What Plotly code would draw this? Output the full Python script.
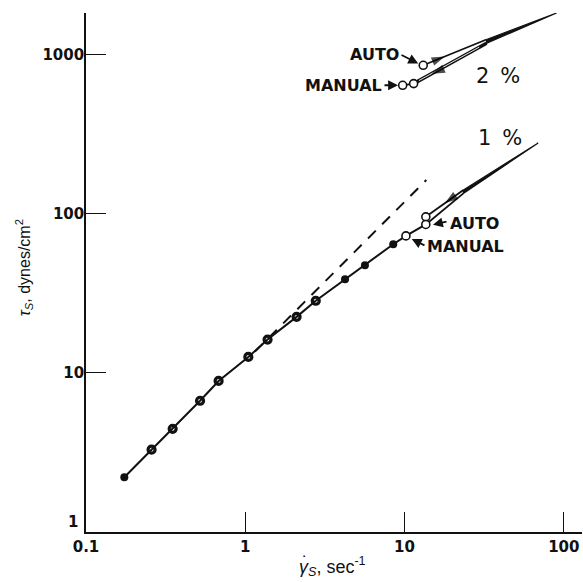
import numpy as np
import plotly.graph_objects as go

# Steady-shear flow curve (shear rate in 1/s, shear stress in dynes/cm^2)
rate = [0.174, 0.258, 0.35, 0.52, 0.68, 1.045, 1.38, 2.1, 2.77, 4.23, 5.64, 8.49]
stress = [2.21, 3.29, 4.45, 6.68, 8.9, 12.6, 16.2, 22.5, 28.4, 38.8, 47.5, 64.4]

# Newtonian reference line (dashed)
newt_rate = [1.15, 13.7]
newt_stress = [13.6, 163]

# 1 % strain: manual and auto points, loop kinks and tip
manual1_rate, manual1_stress = [10.2], [72.6]
auto1_rate, auto1_stress = [13.6, 13.6], [95.7, 85.7]
loop1_kink_rate, loop1_kink_stress = [23.4, 23.4], [141.3, 134.3]
loop1_tip = (69, 279)

# 2 % strain: manual and auto points, loop kinks and tip
manual2_rate, manual2_stress = [9.73, 11.4], [642, 658]
auto2_rate, auto2_stress = [13.1], [858]
loop2_kink_rate, loop2_kink_stress = [32.7, 32.7], [1245, 1180]
loop2_tip = (90, 1828)

x_ticks = [0.1, 1, 10, 100]
x_ticktext = ["0.1", "1", "10", "100"]
y_ticks = [1, 10, 100, 1000]
y_ticktext = ["1", "10", "100", "1000"]

BLACK = "#111111"
fig = go.Figure()

def line(x, y, width=1.8, dash=None, fill=None, color=BLACK):
    fig.add_trace(go.Scatter(x=x, y=y, mode="lines", fill=fill,
                             fillcolor=BLACK if fill else None,
                             line=dict(color=color, width=width, dash=dash),
                             hoverinfo="skip", showlegend=False))

# Newtonian dashed line
line(newt_rate, newt_stress, width=2, dash="11px,9px")

# flow curve through manual point into the lower auto point
line(rate + manual1_rate + [auto1_rate[1]], stress + manual1_stress + [auto1_stress[1]], width=2)

# 1 % loop
line([auto1_rate[0], loop1_kink_rate[0]], [auto1_stress[0], loop1_kink_stress[0]])
line([auto1_rate[1], loop1_kink_rate[1]], [auto1_stress[1], loop1_kink_stress[1]])
line([loop1_kink_rate[0], loop1_tip[0], loop1_kink_rate[1], loop1_kink_rate[0]],
     [loop1_kink_stress[0], loop1_tip[1], loop1_kink_stress[1], loop1_kink_stress[0]],
     width=1.2, fill="toself")

# 2 % loop
line(manual2_rate, manual2_stress)
line([auto2_rate[0], loop2_kink_rate[0]], [auto2_stress[0], loop2_kink_stress[0]])
line([manual2_rate[1], loop2_kink_rate[1]], [manual2_stress[1], loop2_kink_stress[1]], width=3.6)
line([manual2_rate[1] * 1.08, loop2_kink_rate[1] * 0.9],
     [manual2_stress[1] * 1.045, loop2_kink_stress[1] * 0.945], width=0.9, color="white")
line([loop2_kink_rate[0], loop2_tip[0], loop2_kink_rate[1], loop2_kink_rate[0]],
     [loop2_kink_stress[0], loop2_tip[1], loop2_kink_stress[1], loop2_kink_stress[0]],
     width=1.2, fill="toself")

# direction arrows on the loops (second point = head, first point sets the heading)
def arrow(x_from, y_from, x_at, y_at):
    fig.add_trace(go.Scatter(x=[x_from, x_at], y=[y_from, y_at], mode="markers",
                             marker=dict(symbol="arrow", size=[0, 14], angleref="previous",
                                         color="black", line=dict(width=0)),
                             hoverinfo="skip", showlegend=False))

arrow(13.1, 858, 17.9, 975)        # 2 %, auto branch going up
arrow(25, 940, 14.8, 758)          # 2 %, manual branch coming down
arrow(23.4, 141.3, 17.9, 116.6)    # 1 %, coming down

# flow-curve markers
fig.add_trace(go.Scatter(x=rate[1:9], y=stress[1:9], mode="markers",
                         marker=dict(symbol="circle-open", size=7, color=BLACK, line=dict(width=3.2)),
                         hoverinfo="skip", showlegend=False))
fig.add_trace(go.Scatter(x=[rate[0]] + rate[9:], y=[stress[0]] + stress[9:], mode="markers",
                         marker=dict(symbol="circle", size=8, color=BLACK),
                         hoverinfo="skip", showlegend=False))
# open circles for manual / auto readings
fig.add_trace(go.Scatter(x=manual1_rate + auto1_rate + manual2_rate + auto2_rate,
                         y=manual1_stress + auto1_stress + manual2_stress + auto2_stress,
                         mode="markers",
                         marker=dict(symbol="circle", size=8, color="white",
                                     line=dict(color=BLACK, width=1.6)),
                         hoverinfo="skip", showlegend=False))

X0, X1 = -1.0, 2.114
Y0, Y1 = 0.0, 3.262
L, B, W, H = 86, 50, 496, 519.3

def px(x, y):
    """pixel position -> log-axis coordinates"""
    return X0 + (x - L) / W * (X1 - X0), Y0 + (582 - B - y) / H * (Y1 - Y0)

def paper(x, y):
    """pixel position -> paper coordinates"""
    return (x - L) / W, (582 - B - y) / H

label_font = dict(family="DejaVu Sans", size=16, color=BLACK, weight="bold")
labels = [
    ("AUTO", 401, 54, "right"),
    ("MANUAL", 384, 85, "right"),
    ("AUTO", 448, 223, "left"),
    ("MANUAL", 425, 246, "left"),
]
annotations = []
for text, x, y, anchor in labels:
    ax_, ay_ = px(x, y)
    annotations.append(dict(x=ax_, y=ay_, xref="x", yref="y", text=text, showarrow=False,
                            xanchor=anchor, yanchor="middle", font=label_font))
for text, x, y in [("2 \u2009%", 498, 75.5), ("1 \u2009%", 500, 137.5)]:
    ax_, ay_ = px(x, y)
    annotations.append(dict(x=ax_, y=ay_, xref="x", yref="y", text=text, showarrow=False,
                            xanchor="center", yanchor="middle",
                            font=dict(family="DejaVu Sans", size=21, color=BLACK)))

# pointer arrows from labels to the circles: (tail px, head px)
pointers = [((400, 54), (420, 64)), ((383, 85), (400, 85)),
            ((448, 221), (431, 225)), ((426, 246), (410, 238))]
for (tx, ty), (hx, hy) in pointers:
    hx_, hy_ = px(hx, hy)
    tx_, ty_ = px(tx, ty)
    annotations.append(dict(x=hx_, y=hy_, ax=tx_, ay=ty_, xref="x", yref="y",
                            axref="x", ayref="y", text="", showarrow=True,
                            arrowhead=2, arrowsize=1.1, arrowwidth=1.8, arrowcolor=BLACK,
                            standoff=2))

# the lowest y tick label sits just above the corner
one_x, one_y = paper(80, 522)
annotations.append(dict(x=one_x, y=one_y, xref="paper", yref="paper",
                        text=y_ticktext[0], showarrow=False, xanchor="right", yanchor="middle",
                        font=dict(family="DejaVu Sans", size=15, color=BLACK, weight="bold")))

# axis titles (the rate symbol carries a dot above)
tx, ty = paper(332, 567)
annotations.append(dict(x=tx, y=ty, xref="paper", yref="paper",
                        text="<i>\u03b3<sub>S</sub></i>, sec<sup>-1</sup>", showarrow=False,
                        font=dict(family="Liberation Sans", size=18, color=BLACK),
                        xanchor="center", yanchor="middle"))
dx, dy = paper(305, 563)
annotations.append(dict(x=dx, y=dy, xref="paper", yref="paper",
                        text="\u02d9", showarrow=False,
                        font=dict(family="Liberation Sans", size=18, color=BLACK),
                        xanchor="center", yanchor="middle"))
yx, yy = paper(24, 268)
annotations.append(dict(x=yx, y=yy, xref="paper", yref="paper",
                        text="<i>\u03c4<sub>S</sub></i>, dynes/cm<sup>2</sup>", showarrow=False,
                        textangle=-90,
                        font=dict(family="Liberation Sans", size=16, color=BLACK),
                        xanchor="center", yanchor="middle"))

axis_common = dict(type="log", showline=True, linecolor=BLACK, linewidth=1.6,
                   ticks="inside", ticklen=20, tickwidth=1.3, tickcolor=BLACK,
                   showgrid=False, zeroline=False,
                   tickfont=dict(family="DejaVu Sans", size=15, color=BLACK, weight="bold"))

fig.update_layout(
    width=583, height=582, autosize=False,
    margin=dict(l=L, r=1, t=13, b=B),
    paper_bgcolor="white", plot_bgcolor="white",
    xaxis=dict(range=[X0, X1], tickvals=x_ticks, ticktext=x_ticktext, **axis_common),
    yaxis=dict(range=[Y0, Y1], tickvals=y_ticks, ticktext=[""] + y_ticktext[1:],
               ticklabelstandoff=-3, **axis_common),
    annotations=annotations,
    showlegend=False,
)

fig.write_html("out.html")
